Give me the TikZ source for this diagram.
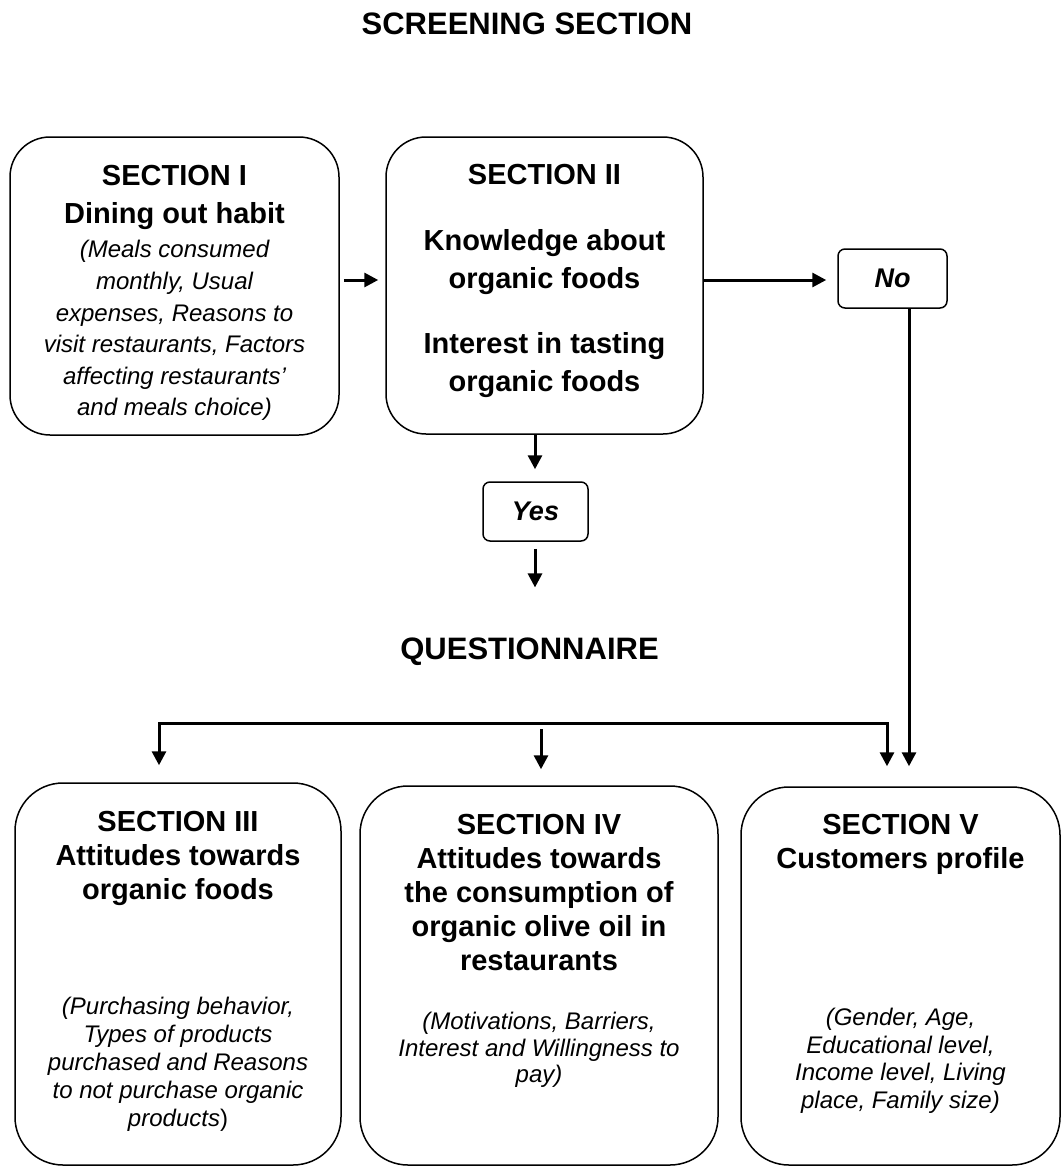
\documentclass[tikz,border=0pt]{standalone}
\usepackage{fontspec}
\setmainfont{Liberation Sans}
\usetikzlibrary{arrows.meta,positioning}

\begin{document}
\begin{tikzpicture}[x=1pt, y=-1pt,
  box/.style={draw, line width=1.5pt, rounded corners=40pt, inner sep=0pt},
  tag/.style={draw, line width=1.5pt, rounded corners=7pt, inner sep=0pt,
              font=\fontsize{27}{32}\selectfont\bfseries\itshape},
  hd/.style={align=center, inner sep=0pt, font=\fontsize{29}{38}\selectfont\bfseries},
  hdb/.style={hd, font=\fontsize{29}{34}\selectfont\bfseries},
  nt/.style={align=center, inner sep=0pt, font=\fontsize{24}{28}\selectfont\itshape},
  ttl/.style={inner sep=0pt, font=\fontsize{31}{36}\selectfont\bfseries},
  ar/.style={-{Triangle[length=14pt,width=14pt]}, line width=3pt}]
\useasboundingbox (0,0) rectangle (1063,1167);
\node[ttl] (scr) at (527,24) {SCREENING SECTION};
\node[box, minimum width=329pt, minimum height=298pt] (s1) at (174.5,286) {};
\node[box, minimum width=317pt, minimum height=297pt] (s2) at (544.5,285.5) {};
\node[tag, minimum width=109pt, minimum height=59pt] (no) at (892.5,278.5) {No};
\node[tag, minimum width=105pt, minimum height=59pt] (yes) at (535.5,511.5) {Yes};
\node[ttl] (q) at (529.5,651.5) {QUESTIONNAIRE};
\node[box, rounded corners=48pt, minimum width=326pt, minimum height=382pt] (s3) at (178,974) {};
\node[box, rounded corners=48pt, minimum width=358pt, minimum height=379pt] (s4) at (539,975.5) {};
\node[box, rounded corners=48pt, minimum width=319pt, minimum height=378pt] (s5) at (900.5,976) {};
\node[hd, below=29pt of s1.north] (h1) {SECTION I\\Dining out habit};
\node[nt, font=\fontsize{24}{31.6}\selectfont\itshape, below=104pt of s1.north] (n1)
  {(Meals consumed\\monthly, Usual\\expenses, Reasons to\\visit restaurants, Factors\\affecting restaurants'\\and meals choice)};
\node[hd, below=27.6pt of s2.north] (h2)
  {SECTION II\\[28.4pt]Knowledge about\\organic foods\\[26.7pt]Interest in tasting\\organic foods};
\node[hdb, below=28.6pt of s3.north] (h3) {SECTION III\\Attitudes towards\\organic foods};
\node[nt, below=215pt of s3.north] (n3)
  {(Purchasing behavior,\\Types of products\\purchased and Reasons\\to not purchase organic\\products\textup{)}};
\node[hdb, below=28.6pt of s4.north] (h4)
  {SECTION IV\\Attitudes towards\\the consumption of\\organic olive oil in\\restaurants};
\node[nt, font=\fontsize{24}{26.5}\selectfont\itshape, below=227pt of s4.north] (n4)
  {(Motivations, Barriers,\\Interest and Willingness to\\pay)};
\node[hdb, below=27.6pt of s5.north] (h5) {SECTION V\\Customers profile};
\node[nt, font=\fontsize{24}{27.5}\selectfont\itshape, below=222pt of s5.north] (n5)
  {(Gender, Age,\\Educational level,\\Income level, Living\\place, Family size)};
\coordinate (bl) at (159,723);
\coordinate (br) at (887,723);
\draw[ar, shorten <=4pt, shorten >=7pt] ([yshift=6pt]s1.east) -- ([yshift=5.5pt]s2.west);
\draw[ar, shorten >=11pt] ([yshift=5.5pt]s2.east) -- ([yshift=-1.5pt]no.west);
\draw[ar, shorten >=12pt] ([xshift=-9.5pt]s2.south) -- ([xshift=-9.5pt]s2.south |- yes.north);
\draw[ar, shorten <=7pt, shorten >=50pt] ([xshift=-0.5pt]yes.south) -- ([xshift=-0.5pt]yes.south |- q.north);
\draw[{Triangle[length=14pt,width=14pt]}-{Triangle[length=14pt,width=14pt]}, line width=3pt,
  shorten <=17pt, shorten >=20pt] (bl |- s3.north) -- (bl) -- (br) -- (br |- s5.north);
\draw[ar] ([xshift=2pt,yshift=56pt]s4.north) -- ([xshift=2pt,yshift=16pt]s4.north);
\draw[ar, shorten >=20pt] ([xshift=16.5pt]no.south) -- ([xshift=16.5pt]no.south |- s5.north);
\end{tikzpicture}
\end{document}
